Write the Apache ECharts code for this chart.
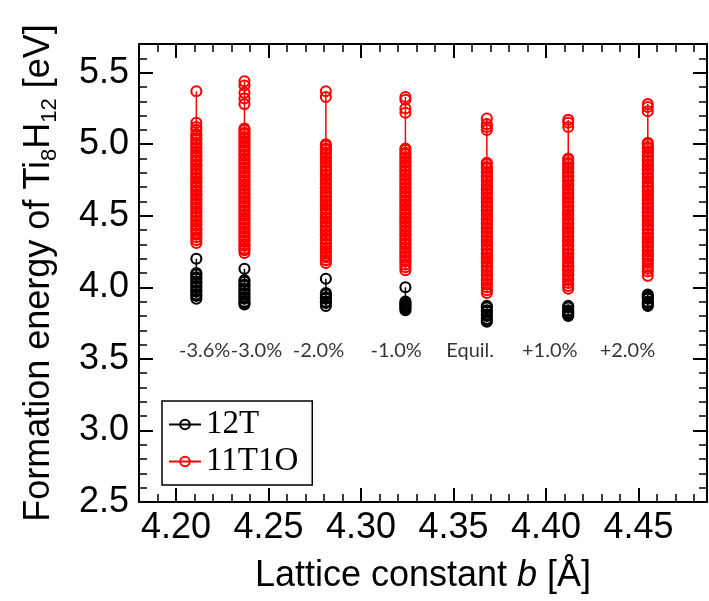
<!DOCTYPE html>
<html>
<head>
<meta charset="utf-8">
<script src="https://cdn.jsdelivr.net/npm/echarts@6/dist/echarts.min.js"></script>
<style>
html, body { margin: 0; padding: 0; background: #fff; }
#main { width: 709px; height: 601px; }
</style>
</head>
<body>
<div id="main"></div>
<script>
// lattice constant b of each strained cell, and the strain labels
var strainLabels = ['-3.6%', '-3.0%', '-2.0%', '-1.0%', 'Equil.', '+1.0%', '+2.0%'];
var latticeB = [4.211, 4.237, 4.281, 4.324, 4.368, 4.412, 4.455];
var labelX = [4.2155, 4.2435, 4.277, 4.319, 4.359, 4.402, 4.444];
var labelY = 3.56;

var xMajor = [4.20, 4.25, 4.30, 4.35, 4.40, 4.45];
var yMajor = [2.5, 3.0, 3.5, 4.0, 4.5, 5.0, 5.5];

// formation energies (eV), one list per lattice constant
var energy12T = [
  [4.20, 4.10, 4.09, 4.07, 4.06, 4.04, 4.03, 4.01, 4.00, 3.98, 3.97, 3.95, 3.94, 3.92],
  [4.13, 4.05, 4.04, 4.02, 4.01, 3.99, 3.98, 3.96, 3.95, 3.93, 3.92, 3.90, 3.89, 3.88],
  [4.06, 3.96, 3.95, 3.93, 3.92, 3.90, 3.89, 3.87],
  [4.00, 3.90, 3.89, 3.88, 3.87, 3.86, 3.85, 3.84],
  [3.87, 3.86, 3.84, 3.83, 3.81, 3.80, 3.78, 3.77, 3.76],
  [3.87, 3.86, 3.84, 3.83, 3.82, 3.81, 3.80],
  [3.95, 3.94, 3.93, 3.92, 3.90, 3.89, 3.88, 3.87]
];

var energy11T1O = [
  [5.37, 5.15, 5.12, 5.10, 5.07, 5.06, 5.04, 5.03, 5.01, 5.00, 4.98, 4.97, 4.95, 4.94, 4.92, 4.91, 4.89, 4.88,
   4.86, 4.85, 4.83, 4.82, 4.80, 4.79, 4.77, 4.76, 4.74, 4.73, 4.71, 4.70, 4.68, 4.67, 4.65, 4.64, 4.62, 4.61,
   4.59, 4.58, 4.56, 4.55, 4.53, 4.52, 4.50, 4.49, 4.47, 4.46, 4.44, 4.43, 4.41, 4.40, 4.38, 4.37, 4.35, 4.33,
   4.31],
  [5.44, 5.41, 5.36, 5.32, 5.28, 5.11, 5.10, 5.08, 5.07, 5.05, 5.04, 5.02, 5.01, 4.99, 4.98, 4.96, 4.95, 4.93,
   4.92, 4.90, 4.89, 4.87, 4.86, 4.84, 4.83, 4.81, 4.80, 4.78, 4.77, 4.75, 4.74, 4.72, 4.71, 4.69, 4.68, 4.66,
   4.65, 4.63, 4.62, 4.60, 4.59, 4.57, 4.56, 4.54, 4.53, 4.51, 4.50, 4.48, 4.47, 4.45, 4.44, 4.42, 4.41, 4.39,
   4.38, 4.36, 4.35, 4.33, 4.32, 4.30, 4.29, 4.27, 4.26, 4.24],
  [5.37, 5.33, 5.00, 4.99, 4.97, 4.96, 4.94, 4.93, 4.91, 4.90, 4.88, 4.87, 4.85, 4.84, 4.82, 4.81, 4.79, 4.78,
   4.76, 4.75, 4.73, 4.72, 4.70, 4.69, 4.67, 4.66, 4.64, 4.63, 4.61, 4.60, 4.58, 4.57, 4.55, 4.54, 4.52, 4.51,
   4.49, 4.48, 4.46, 4.45, 4.43, 4.42, 4.40, 4.39, 4.37, 4.36, 4.34, 4.33, 4.31, 4.30, 4.28, 4.27, 4.25, 4.24,
   4.22, 4.21, 4.19, 4.17],
  [5.33, 5.31, 5.25, 5.22, 4.97, 4.96, 4.94, 4.93, 4.91, 4.90, 4.88, 4.87, 4.85, 4.84, 4.82, 4.81, 4.79, 4.78,
   4.76, 4.75, 4.73, 4.72, 4.70, 4.69, 4.67, 4.66, 4.64, 4.63, 4.61, 4.60, 4.58, 4.57, 4.55, 4.54, 4.52, 4.51,
   4.49, 4.48, 4.46, 4.45, 4.43, 4.42, 4.40, 4.39, 4.37, 4.36, 4.34, 4.33, 4.31, 4.30, 4.28, 4.27, 4.25, 4.24,
   4.22, 4.21, 4.19, 4.18, 4.16, 4.14, 4.12],
  [5.18, 5.14, 5.12, 5.10, 4.87, 4.86, 4.84, 4.83, 4.81, 4.80, 4.78, 4.77, 4.75, 4.74, 4.72, 4.71, 4.69, 4.68,
   4.66, 4.65, 4.63, 4.62, 4.60, 4.59, 4.57, 4.56, 4.54, 4.53, 4.51, 4.50, 4.48, 4.47, 4.45, 4.44, 4.42, 4.41,
   4.39, 4.38, 4.36, 4.35, 4.33, 4.32, 4.30, 4.29, 4.27, 4.26, 4.24, 4.23, 4.21, 4.20, 4.18, 4.17, 4.15, 4.14,
   4.12, 4.11, 4.09, 4.08, 4.06, 4.05, 4.03, 4.02, 4.00, 3.98, 3.96],
  [5.17, 5.15, 5.12, 4.90, 4.89, 4.87, 4.86, 4.84, 4.83, 4.81, 4.80, 4.78, 4.77, 4.75, 4.74, 4.72, 4.71, 4.69,
   4.68, 4.66, 4.65, 4.63, 4.62, 4.60, 4.59, 4.57, 4.56, 4.54, 4.53, 4.51, 4.50, 4.48, 4.47, 4.45, 4.44, 4.42,
   4.41, 4.39, 4.38, 4.36, 4.35, 4.33, 4.32, 4.30, 4.29, 4.27, 4.26, 4.24, 4.23, 4.21, 4.20, 4.18, 4.17, 4.15,
   4.14, 4.12, 4.11, 4.09, 4.08, 4.06, 4.05, 4.03, 4.01, 3.99],
  [5.28, 5.26, 5.23, 5.01, 5.00, 4.98, 4.97, 4.95, 4.94, 4.92, 4.91, 4.89, 4.88, 4.86, 4.85, 4.83, 4.82, 4.80,
   4.79, 4.77, 4.76, 4.74, 4.73, 4.71, 4.70, 4.68, 4.67, 4.65, 4.64, 4.62, 4.61, 4.59, 4.58, 4.56, 4.55, 4.53,
   4.52, 4.50, 4.49, 4.47, 4.46, 4.44, 4.43, 4.41, 4.40, 4.38, 4.37, 4.35, 4.34, 4.32, 4.31, 4.29, 4.28, 4.26,
   4.25, 4.23, 4.22, 4.20, 4.19, 4.17, 4.15, 4.13, 4.11, 4.08]
];

var chart = echarts.init(document.getElementById('main'));

var XMIN = 4.18, XMAX = 4.487, YMIN = 2.5, YMAX = 5.7;
var black = '#000';
var sans = 'Liberation Sans';

function majorX(pos, withLabel) {
  return {
    type: 'value', position: pos, min: XMIN, max: XMAX,
    axisLine: { show: true, onZero: false, lineStyle: { color: black, width: 2 } },
    axisTick: { show: true, inside: true, length: 14, customValues: xMajor, lineStyle: { color: black, width: 2 } },
    axisLabel: {
      show: withLabel, customValues: xMajor, margin: 8,
      formatter: function (v) { return v.toFixed(2); },
      color: black, fontSize: 36, fontFamily: sans
    },
    splitLine: { show: false }
  };
}
function minorX(pos) {
  return {
    type: 'value', position: pos, min: XMIN, max: XMAX, interval: 0.01,
    axisLine: { show: false },
    axisTick: { show: true, inside: true, length: 8, lineStyle: { color: black, width: 1.5 } },
    axisLabel: { show: false },
    splitLine: { show: false }
  };
}
function majorY(pos, withLabel) {
  return {
    type: 'value', position: pos, min: YMIN, max: YMAX,
    axisLine: { show: true, onZero: false, lineStyle: { color: black, width: 2 } },
    axisTick: { show: true, inside: true, length: 14, customValues: yMajor, lineStyle: { color: black, width: 2 } },
    axisLabel: {
      show: withLabel, customValues: yMajor, margin: 10,
      formatter: function (v) { return v.toFixed(1); },
      color: black, fontSize: 36, fontFamily: sans
    },
    splitLine: { show: false }
  };
}
function minorY(pos) {
  return {
    type: 'value', position: pos, min: YMIN, max: YMAX, interval: 0.1,
    axisLine: { show: false },
    axisTick: { show: true, inside: true, length: 8, lineStyle: { color: black, width: 1.5 } },
    axisLabel: { show: false },
    splitLine: { show: false }
  };
}

var xAxes = [majorX('bottom', true), minorX('bottom'), majorX('top', false), minorX('top')];
xAxes[0].name = '{a|Lattice constant }{i|b}{a| [Å]}';
xAxes[0].nameLocation = 'middle';
xAxes[0].nameGap = 56;
xAxes[0].nameTextStyle = {
  rich: {
    a: { fontSize: 36, fontFamily: sans, color: black },
    i: { fontSize: 36, fontFamily: sans, fontStyle: 'italic', color: black }
  }
};

var yAxes = [majorY('left', true), minorY('left'), majorY('right', false), minorY('right')];
yAxes[0].name = '{a|Formation energy of Ti}{s|8}{a|H}{s|12}{a| [eV]}';
yAxes[0].nameLocation = 'middle';
yAxes[0].nameRotate = 90;
yAxes[0].nameGap = 78;
yAxes[0].nameTextStyle = {
  rich: {
    a: { fontSize: 36, fontFamily: sans, color: black, lineHeight: 44 },
    s: { fontSize: 22, fontFamily: sans, color: black, lineHeight: 22, verticalAlign: 'bottom' }
  }
};

function columnSeries(name, color, cols) {
  return cols.map(function (vals, i) {
    return {
      name: name,
      type: 'line',
      xAxisIndex: 0, yAxisIndex: 0,
      data: vals.map(function (v) { return [latticeB[i], v]; }),
      symbol: 'circle',
      symbolSize: 10,
      itemStyle: { color: 'rgba(255,255,255,0)', borderColor: color, borderWidth: 2.1 },
      lineStyle: { color: color, width: 1.5 },
      emphasis: { disabled: true },
      silent: true
    };
  });
}

var series = []
  .concat(columnSeries('12T', '#000000', energy12T))
  .concat(columnSeries('11T1O', '#ff0000', energy11T1O));

series.push({
  type: 'scatter',
  xAxisIndex: 0, yAxisIndex: 0,
  data: labelX.map(function (x) { return [x, labelY]; }),
  symbolSize: 0,
  silent: true,
  label: {
    show: true, position: 'inside',
    formatter: function (p) { return strainLabels[p.dataIndex]; },
    color: black, fontSize: 20, fontFamily: 'Lato'
  }
});

var option = {
  animation: false,
  backgroundColor: '#fff',
  grid: { left: 139, right: 2, top: 44, bottom: 99, containLabel: false },
  legend: {
    data: ['12T', '11T1O'],
    orient: 'vertical',
    left: 162, top: 401,
    itemWidth: 32, itemHeight: 12, itemGap: 4,
    padding: [7, 14, 7, 6],
    borderColor: black, borderWidth: 1.5,
    backgroundColor: '#fff',
    selectedMode: false,
    textStyle: { fontFamily: 'Liberation Serif', fontSize: 33, color: black, lineHeight: 33 }
  },
  xAxis: xAxes,
  yAxis: yAxes,
  series: series
};

chart.setOption(option);
</script>
</body>
</html>
